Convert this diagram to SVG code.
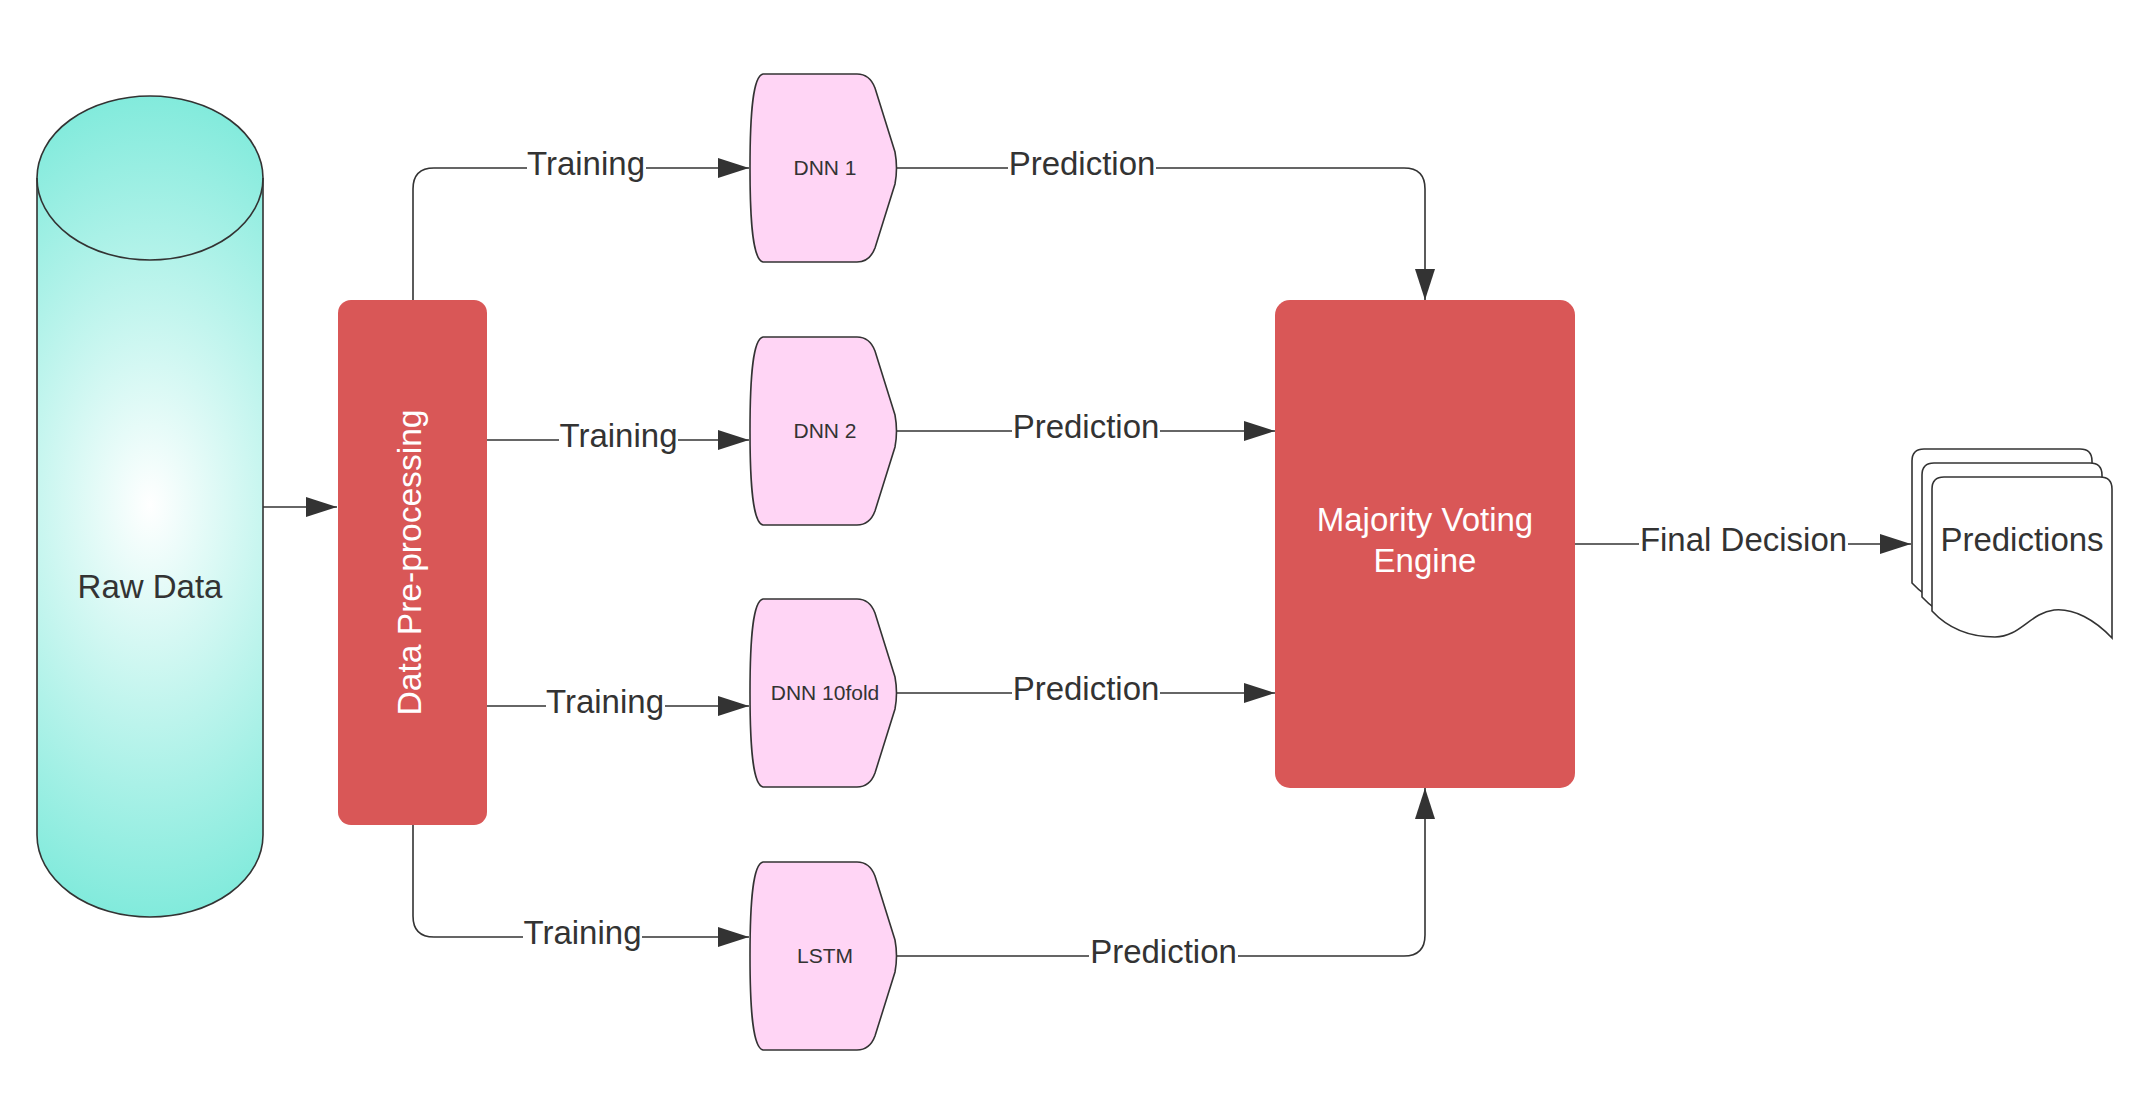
<svg xmlns="http://www.w3.org/2000/svg" width="2138" height="1108" viewBox="0 0 2138 1108">
<defs>
<style>
.ln{fill:none;stroke:#333;stroke-width:1.6}
.lbl{font-family:"Liberation Sans",Arial,sans-serif;font-size:33px;fill:#333;text-anchor:middle}
.bg{fill:#fff}
.red{fill:#D95757}
.wt{font-family:"Liberation Sans",Arial,sans-serif;font-size:33px;fill:#fff;text-anchor:middle}
.dnn{fill:#FFD5F5;stroke:#333;stroke-width:1.6}
.dt{font-family:"Liberation Sans",Arial,sans-serif;font-size:21px;fill:#333;text-anchor:middle}
.doc{fill:#fff;stroke:#333;stroke-width:1.6}
</style>
<radialGradient id="cylg" gradientUnits="userSpaceOnUse" cx="150" cy="505" r="420" gradientTransform="translate(150 505) scale(0.62 1) translate(-150 -505)">
<stop offset="0" stop-color="#ffffff"/>
<stop offset="1" stop-color="#7FEADB"/>
</radialGradient>
<marker id="ah" markerUnits="userSpaceOnUse" markerWidth="31" markerHeight="20" viewBox="0 0 31 20" refX="31" refY="10" orient="auto">
<path d="M0,0 L31,10 L0,20 Z" fill="#333"/>
</marker>
<path id="dshape" d="M13,0 L107,0 C117,0 122,6 125,14 L145,78 Q148,94 145,110 L125,174 C122,182 117,188 107,188 L13,188 C3,186 0,150 0,94 C0,38 3,2 13,0 Z"/>
<path id="docp" d="M0,12 Q0,0 12,0 L168,0 Q180,0 180,12 L180,161 C163,143 142,131 122,133 C98,136 88,160 63,160 C33,160 13,148 0,134 Z"/>
</defs>
<rect width="2138" height="1108" fill="#fff"/>

<g id="raw-data">
<path d="M37,178 A113,82 0 0 1 263,178 L263,835 A113,82 0 0 1 37,835 Z" fill="url(#cylg)" stroke="#333" stroke-width="1.6"/>
<path d="M37,178 A113,82 0 0 0 263,178" fill="none" stroke="#333" stroke-width="1.6"/>
<text class="lbl" x="150" y="598">Raw Data</text>
</g>

<g id="preprocessing">
<rect class="red" x="338" y="300" width="149" height="525" rx="13"/>
<text class="wt" transform="translate(421 562.5) rotate(-90)" x="0" y="0" font-size="35" textLength="306" lengthAdjust="spacingAndGlyphs">Data Pre-processing</text>
</g>

<g id="dnn1">
<use href="#dshape" class="dnn" x="750" y="74"/>
<text class="dt" x="825" y="175">DNN 1</text>
</g>
<g id="dnn2">
<use href="#dshape" class="dnn" x="750" y="337"/>
<text class="dt" x="825" y="438">DNN 2</text>
</g>
<g id="dnn10fold">
<use href="#dshape" class="dnn" x="750" y="599"/>
<text class="dt" x="825" y="700">DNN 10fold</text>
</g>
<g id="lstm">
<use href="#dshape" class="dnn" x="750" y="862"/>
<text class="dt" x="825" y="963">LSTM</text>
</g>

<g id="majority-voting">
<rect class="red" x="1275" y="300" width="300" height="488" rx="15"/>
<text class="wt" x="1425" y="531">Majority Voting</text>
<text class="wt" x="1425" y="572">Engine</text>
</g>

<g id="predictions">
<use href="#docp" class="doc" x="1912" y="449"/>
<use href="#docp" class="doc" x="1922" y="463"/>
<use href="#docp" class="doc" x="1932" y="477"/>
<text class="lbl" x="2022" y="551">Predictions</text>
</g>

<g id="connectors">
<path class="ln" d="M263,507 L337,507" marker-end="url(#ah)"/>
<path class="ln" d="M413,300 L413,189 Q413,168 434,168 L749,168" marker-end="url(#ah)"/>
<path class="ln" d="M487,440 L749,440" marker-end="url(#ah)"/>
<path class="ln" d="M487,706 L749,706" marker-end="url(#ah)"/>
<path class="ln" d="M413,825 L413,916 Q413,937 434,937 L749,937" marker-end="url(#ah)"/>
<path class="ln" d="M897,168 L1404,168 Q1425,168 1425,189 L1425,300" marker-end="url(#ah)"/>
<path class="ln" d="M897,431 L1275,431" marker-end="url(#ah)"/>
<path class="ln" d="M897,693 L1275,693" marker-end="url(#ah)"/>
<path class="ln" d="M897,956 L1404,956 Q1425,956 1425,935 L1425,788" marker-end="url(#ah)"/>
<path class="ln" d="M1575,544 L1911,544" marker-end="url(#ah)"/>
<g id="labels">
<rect class="bg" x="527" y="162" width="119" height="12"/>
<text class="lbl" x="586" y="175">Training</text>
<rect class="bg" x="559" y="434" width="119" height="12"/>
<text class="lbl" x="618.5" y="447">Training</text>
<rect class="bg" x="546" y="700" width="119" height="12"/>
<text class="lbl" x="605" y="713">Training</text>
<rect class="bg" x="523" y="931" width="119" height="12"/>
<text class="lbl" x="582.5" y="944">Training</text>
<rect class="bg" x="1008" y="162" width="148" height="12"/>
<text class="lbl" x="1082" y="175">Prediction</text>
<rect class="bg" x="1012" y="425" width="148" height="12"/>
<text class="lbl" x="1086" y="438">Prediction</text>
<rect class="bg" x="1012" y="687" width="148" height="12"/>
<text class="lbl" x="1086" y="700">Prediction</text>
<rect class="bg" x="1089" y="950" width="149" height="12"/>
<text class="lbl" x="1163.5" y="963">Prediction</text>
<rect class="bg" x="1639" y="538" width="209" height="12"/>
<text class="lbl" x="1743.5" y="551">Final Decision</text>
</g>
</g>
</svg>
